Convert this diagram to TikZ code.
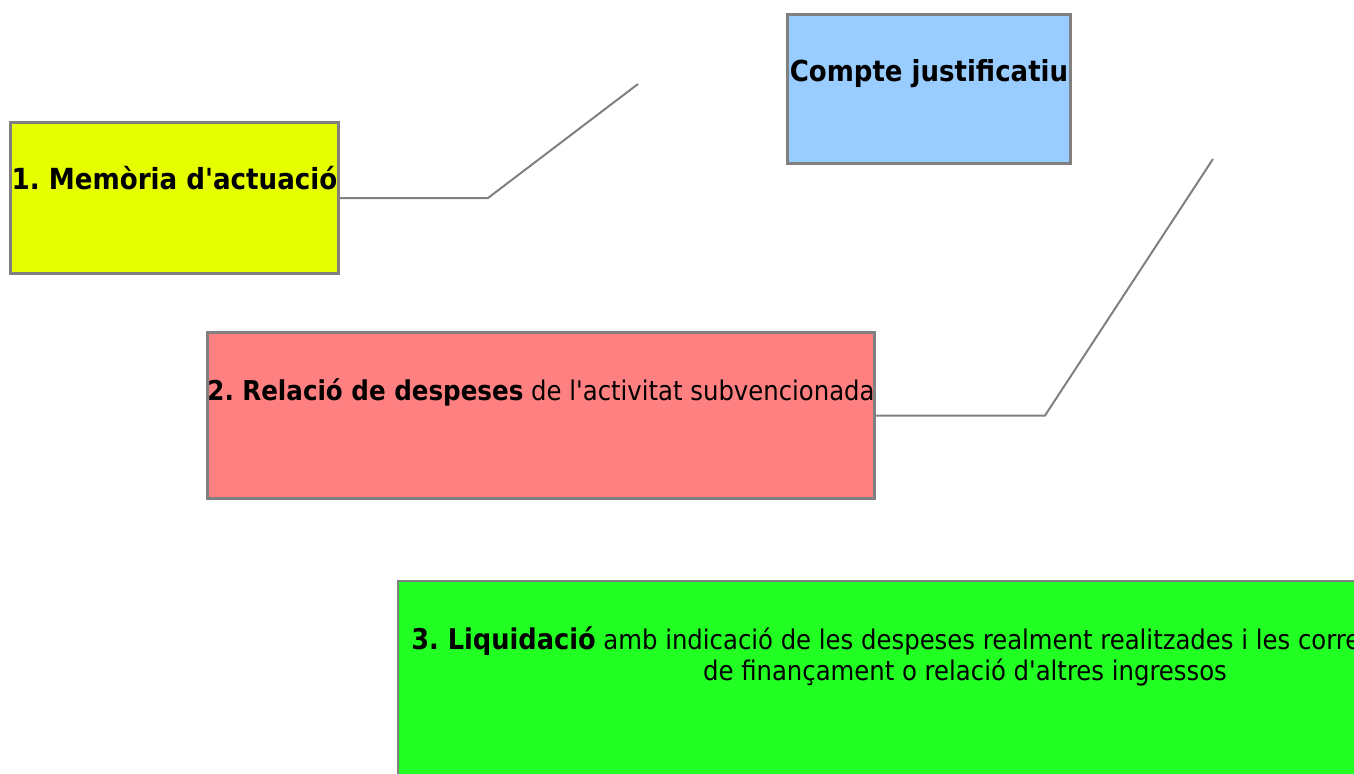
\documentclass[tikz,border=0pt]{standalone}
\usepackage{fontspec}
\newfontfamily\djfont{DejaVu Sans Condensed}
\definecolor{boxgray}{RGB}{128,128,128}
\definecolor{linegray}{RGB}{128,128,128}
\definecolor{memfill}{RGB}{230,255,0}
\definecolor{comptefill}{RGB}{153,204,255}
\definecolor{relfill}{RGB}{255,128,128}
\definecolor{liqfill}{RGB}{34,255,34}
\newcommand{\bt}[2][21.4]{{\fontsize{#1}{25}\selectfont\bfseries #2}}
\begin{document}
\frenchspacing
\begin{tikzpicture}[x=0.75pt,y=-0.75pt]
\tikzset{
  box/.style={draw=boxgray, line width=2pt, inner sep=0pt, outer sep=0pt},
  conn/.style={draw=linegray, line width=1.5pt},
  txt/.style={inner sep=0pt, font=\djfont\fontsize{20.3}{25}\selectfont}
}
\useasboundingbox (0,0) rectangle (1354,774);
\begin{scope}
\clip (0,0) rectangle (1354,774);
% boxes
\node[box, fill=memfill, minimum width=328*0.75pt, minimum height=151*0.75pt] (mem) at (174.5,198) {};
\node[box, fill=comptefill, minimum width=283*0.75pt, minimum height=149*0.75pt] (compte) at (929,89) {};
\node[box, fill=relfill, minimum width=667*0.75pt, minimum height=166*0.75pt] (rel) at (541,415.5) {};
\node[box, fill=liqfill, anchor=north west, minimum width=1140*0.75pt, minimum height=260*0.75pt] (liq) at (398,581) {};
% texts
\node[txt, anchor=base] (memt) at (174.5,190) {\bt[21.8]{1. Memòria d'actuació}};
\node[txt, anchor=base] (comptet) at (929,82) {\bt[21.7]{Compte justificatiu}};
\node[txt, anchor=base] (relt) at (541,400) {\bt[20.5]{2. Relació de despeses} de l'activitat subvencionada};
\node[txt, anchor=base west] (liqa) at (411,649) {\bt{3. Liquidació} amb indicació de les despeses realment realitzades i les corre};
\node[txt, anchor=base] (liqb) at (965,680) {de finançament o relació d'altres ingressos};
% connectors
\coordinate (e1) at (638,84);
\coordinate (b1) at (488,198);
\coordinate (e2) at (1213,159);
\coordinate (b2) at (1045,415.5);
\draw[conn] (mem.east) -- (b1) -- (e1);
\draw[conn] (rel.east) -- (b2) -- (e2);
\end{scope}
\end{tikzpicture}
\end{document}
